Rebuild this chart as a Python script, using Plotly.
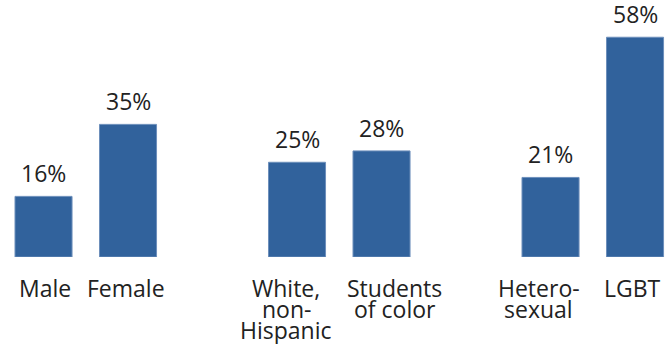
import plotly.graph_objects as go

categories = ["Male", "Female", "White, non-Hispanic", "Students of color", "Hetero-sexual", "LGBT"]
label_lines = [["Male"], ["Female"], ["White,", "non-", "Hispanic"], ["Students", "of color"], ["Hetero-", "sexual"], ["LGBT"]]
values = [16, 35, 25, 28, 21, 58]
value_labels = ["16%", "35%", "25%", "28%", "21%", "58%"]

# horizontal nudge (px) of each category label relative to its bar centre
label_nudge = [1, -2, -11, 13, -12, -3]

BAR = "#31629c"
TXT = "#222222"
FONT = "Open Sans"
FS = 23

xpos = [i + i // 2 for i in range(len(values))]

fig = go.Figure()
fig.add_trace(go.Bar(
    x=xpos, y=values, width=0.675,
    marker=dict(color=BAR, line=dict(color="#6d8fbb", width=1)),
    hoverinfo="skip",
))

ann = []
for x, v, t in zip(xpos, values, value_labels):
    ann.append(dict(x=x, y=v, xref="x", yref="y", text=t, showarrow=False,
                    yanchor="bottom", yshift=5, font=dict(family=FONT, size=FS, color=TXT)))
for x, lines, dx in zip(xpos, label_lines, label_nudge):
    for j, line in enumerate(lines):
        ann.append(dict(x=x, y=0, xref="x", yref="paper", text=line, showarrow=False,
                        xshift=dx, yanchor="top", yshift=-13 - 20.8 * j,
                        font=dict(family=FONT, size=FS, color=TXT)))

fig.update_layout(
    width=669, height=344,
    margin=dict(l=0, r=0, t=0, b=87),
    paper_bgcolor="white", plot_bgcolor="white",
    showlegend=False,
    xaxis=dict(range=[-0.515, 7.402], visible=False, fixedrange=True),
    yaxis=dict(range=[0, 67.83], visible=False, fixedrange=True),
    annotations=ann,
)
fig.write_html("out.html")
